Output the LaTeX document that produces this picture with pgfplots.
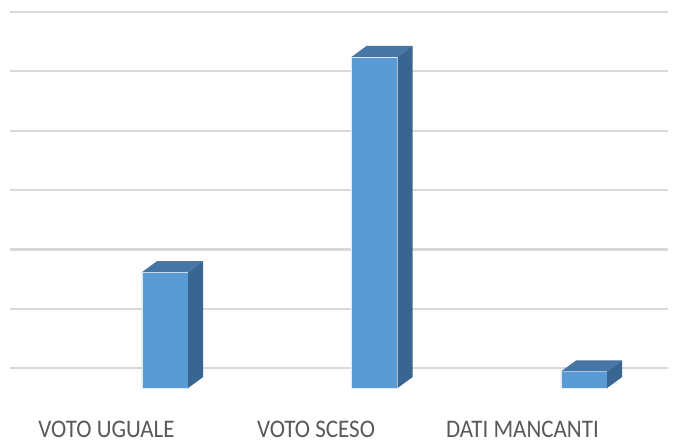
\documentclass[border=0pt]{standalone}
\usepackage{pgfplots}
\pgfplotsset{compat=1.18}
\usepackage{fontspec}
\setmainfont{Carlito}
\definecolor{front}{HTML}{5B9BD5}
\definecolor{topf}{HTML}{4676A5}
\definecolor{side}{HTML}{3A6590}
\definecolor{gridc}{HTML}{D9D9D9}
\definecolor{txt}{HTML}{595959}
\begin{document}
\begin{tikzpicture}
\begin{axis}[
  scale only axis, width=678pt, height=445pt,
  xmin=-0.5107, xmax=2.7255, ymin=-3.443, ymax=23.44,
  axis line style={draw=none}, xtick=\empty, ytick=\empty,
  clip=false,
]
% gridlines (back wall)
\addplot[gridc, line width=2.2pt] coordinates {(-0.463,1.21) (2.678,1.21)};
\addplot[gridc, line width=2.2pt] coordinates {(-0.463,4.79) (2.678,4.79)};
\addplot[gridc, line width=2.2pt] coordinates {(-0.463,8.37) (2.678,8.37)};
\addplot[gridc, line width=2.2pt] coordinates {(-0.463,11.96) (2.678,11.96)};
\addplot[gridc, line width=2.2pt] coordinates {(-0.463,15.55) (2.678,15.55)};
\addplot[gridc, line width=2.2pt] coordinates {(-0.463,19.13) (2.678,19.13)};
\addplot[gridc, line width=2.2pt] coordinates {(-0.463,22.72) (2.678,22.72)};
% front faces (values 7, 20, 1)
\addplot[ybar, bar width=0.22, fill=front, draw=white!80!front, line width=0.4pt]
  coordinates {(0.277,7) (1.277,20) (2.277,1)};
% top faces
\addplot[fill=topf, draw=none] coordinates {(0.167,7) (0.387,7) (0.459,7.665) (0.239,7.665)} -- cycle;
\addplot[fill=topf, draw=none] coordinates {(1.167,20) (1.387,20) (1.459,20.665) (1.239,20.665)} -- cycle;
\addplot[fill=topf, draw=none] coordinates {(2.167,1) (2.387,1) (2.459,1.665) (2.239,1.665)} -- cycle;
% side faces
\addplot[fill=side, draw=none] coordinates {(0.387,0) (0.459,0.665) (0.459,7.665) (0.387,7)} -- cycle;
\addplot[fill=side, draw=none] coordinates {(1.387,0) (1.459,0.665) (1.459,20.665) (1.387,20)} -- cycle;
\addplot[fill=side, draw=none] coordinates {(2.387,0) (2.459,0.665) (2.459,1.665) (2.387,1)} -- cycle;
% category labels
\node[txt, anchor=base, inner sep=0pt, yscale=1.1, font=\fontsize{23}{27}\selectfont] at (axis cs:-0.0024,-2.98) {VOTO UGUALE};
\node[txt, anchor=base, inner sep=0pt, yscale=1.1, font=\fontsize{23}{27}\selectfont] at (axis cs:0.998,-2.98) {VOTO SCESO};
\node[txt, anchor=base, inner sep=0pt, yscale=1.1, font=\fontsize{23}{27}\selectfont] at (axis cs:1.983,-2.98) {DATI MANCANTI};
\end{axis}
\end{tikzpicture}
\end{document}
